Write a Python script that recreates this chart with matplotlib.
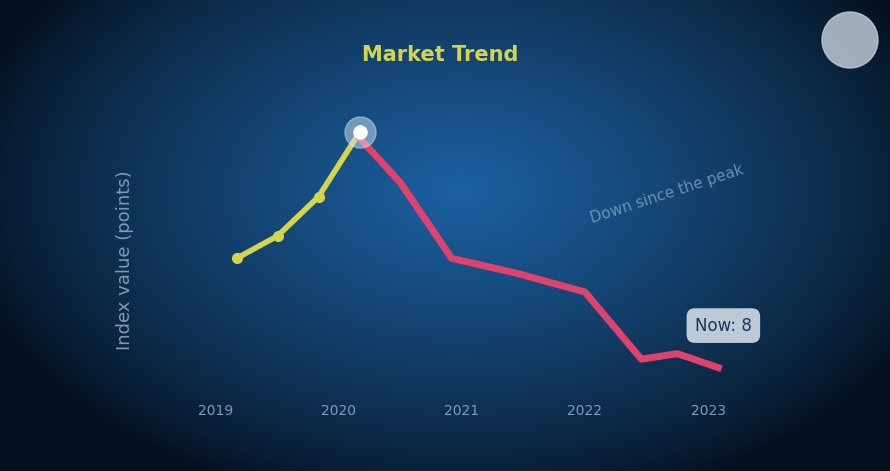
import numpy as np
import matplotlib.pyplot as plt
from matplotlib.patches import Circle

# ---- Data ----
months_up = [6, 10, 14, 18]
values_up = [47, 55, 69, 92]

months_down = [18, 22, 27, 33, 40, 45.5, 49, 53]
values_down = [90, 74, 47, 42, 35, 11, 13, 8]

xtick_pos = [4, 16, 28, 40, 52]
xtick_labels = ["2019", "2020", "2021", "2022", "2023"]

title = "Market Trend"
ylabel = "Index value (points)"

# ---- Figure ----
fig = plt.figure(figsize=(8.9, 4.71), dpi=100)

# radial background
bg = fig.add_axes([0, 0, 1, 1])
yy, xx = np.mgrid[0:471, 0:890]
r = np.sqrt(((xx - 460) / 500.0) ** 2 + ((yy - 190) / 320.0) ** 2)
r = np.clip(r, 0, 1)
inner = np.array([0.11, 0.38, 0.63])
outer = np.array([0.02, 0.07, 0.13])
t = (1 - r[..., None]) ** 0.8
img = inner[None, None, :] * t + outer[None, None, :] * (1 - t)
bg.imshow(img, aspect="auto", extent=[0, 890, 471, 0])
bg.set_axis_off()
bg.add_patch(Circle((850, 40), 28, color="#c9d3dc", alpha=0.8))

ax = fig.add_axes([175 / 890, 1 - 390 / 471, 615 / 890, 280 / 471])
ax.set_facecolor("none")
ax.set_xlim(0, 60)
ax.set_ylim(0, 100)

ax.plot(months_up, values_up, color="#d6d44a", lw=4, marker="o", ms=7)
ax.plot(months_down, values_down, color="#e0426e", lw=5)

# highlight peak
ax.scatter([months_up[-1]], [values_up[-1]], s=500, color="#cfe3f5", alpha=0.5, zorder=4)
ax.scatter([months_up[-1]], [values_up[-1]], s=90, color="white", zorder=5)

ax.annotate("Now: 8", xy=(months_down[-1], values_down[-1]),
            xytext=(53.5, 23), ha="center", va="center", fontsize=12, color="#16365a",
            bbox=dict(boxstyle="round,pad=0.5", fc="#dce6ef", ec="none", alpha=0.85))
ax.text(48, 70, "Down since the peak", color="#8fb0cc", fontsize=11,
        rotation=18, ha="center", va="center", alpha=0.7)

ax.set_xticks(xtick_pos)
ax.set_xticklabels(xtick_labels, color="#7f9bb5", fontsize=10)
ax.set_yticks([])
ax.tick_params(axis="x", length=0, pad=10)
for s in ax.spines.values():
    s.set_visible(False)

fig.text(125 / 890, 1 - 260 / 471, ylabel, rotation=90, color="#7f9bb5",
         fontsize=13, ha="center", va="center")
fig.text(440 / 890, 1 - 55 / 471, title, color="#d6d44a", fontsize=15,
         fontweight="bold", ha="center", va="center")

fig.savefig("out.png", dpi=100)
